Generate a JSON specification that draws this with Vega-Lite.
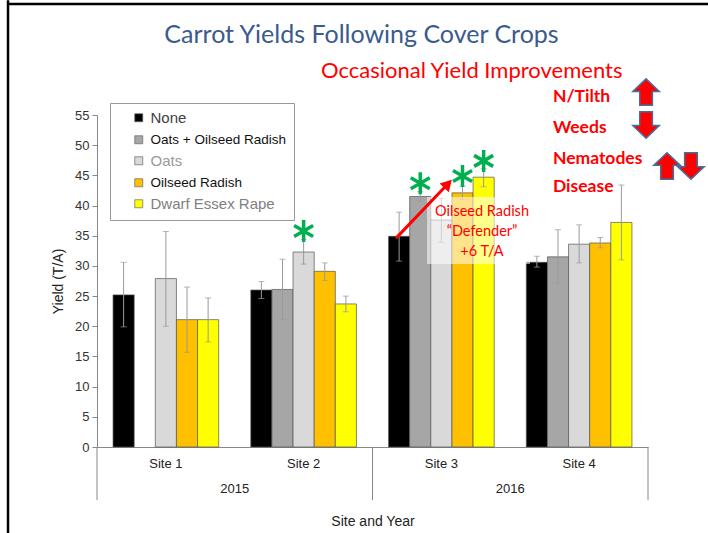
{
  "$schema": "https://vega.github.io/schema/vega-lite/v6.json",
  "width": 551,
  "height": 332,
  "autosize": {"type": "none"},
  "padding": {"left": 97, "top": 115, "right": 60, "bottom": 86},
  "background": "white",
  "title": {
    "text": "Carrot Yields Following Cover Crops",
    "font": "Lato",
    "fontSize": 25,
    "fontWeight": "normal",
    "color": "#3a5b8c",
    "anchor": "middle",
    "frame": "group",
    "offset": -49,
    "dx": -11
  },
  "config": {
    "view": {"stroke": null},
    "font": "Liberation Sans",
    "axisY": {
      "values": [0, 5, 10, 15, 20, 25, 30, 35, 40, 45, 50, 55],
      "labelOverlap": false,
      "labelBound": false,
      "grid": false,
      "domainColor": "#888",
      "tickColor": "#888",
      "tickSize": 5,
      "labelFont": "Liberation Sans",
      "labelFontSize": 13,
      "labelColor": "#333",
      "labelPadding": 3,
      "titleFont": "Liberation Sans",
      "titleFontSize": 14,
      "titleFontWeight": "normal",
      "titleColor": "#222",
      "titlePadding": 9
    }
  },
  "datasets": {
    "yields": [
      {"Site": "Site 1", "Treatment": "None", "Yield": 25.2, "Low": 19.9, "High": 30.6},
      {"Site": "Site 1", "Treatment": "Oats", "Yield": 27.9, "Low": 20.0, "High": 35.7},
      {"Site": "Site 1", "Treatment": "Oilseed Radish", "Yield": 21.1, "Low": 15.7, "High": 26.5},
      {"Site": "Site 1", "Treatment": "Dwarf Essex Rape", "Yield": 21.1, "Low": 17.4, "High": 24.7},
      {"Site": "Site 2", "Treatment": "None", "Yield": 26.0, "Low": 24.6, "High": 27.4},
      {"Site": "Site 2", "Treatment": "Oats + Oilseed Radish", "Yield": 26.1, "Low": 21.1, "High": 31.1},
      {"Site": "Site 2", "Treatment": "Oats", "Yield": 32.3, "Low": 30.3, "High": 34.4},
      {"Site": "Site 2", "Treatment": "Oilseed Radish", "Yield": 29.1, "Low": 27.6, "High": 30.5},
      {"Site": "Site 2", "Treatment": "Dwarf Essex Rape", "Yield": 23.7, "Low": 22.4, "High": 25.0},
      {"Site": "Site 3", "Treatment": "None", "Yield": 34.9, "Low": 30.8, "High": 38.9},
      {"Site": "Site 3", "Treatment": "Oats + Oilseed Radish", "Yield": 41.5, "Low": 40.7, "High": 42.3},
      {"Site": "Site 3", "Treatment": "Oats", "Yield": 37.6, "Low": 33.9, "High": 41.2},
      {"Site": "Site 3", "Treatment": "Oilseed Radish", "Yield": 42.1, "Low": 41.0, "High": 43.2},
      {"Site": "Site 3", "Treatment": "Dwarf Essex Rape", "Yield": 44.7, "Low": 43.1, "High": 46.1},
      {"Site": "Site 4", "Treatment": "None", "Yield": 30.6, "Low": 29.8, "High": 31.6},
      {"Site": "Site 4", "Treatment": "Oats + Oilseed Radish", "Yield": 31.5, "Low": 27.1, "High": 36.0},
      {"Site": "Site 4", "Treatment": "Oats", "Yield": 33.6, "Low": 30.5, "High": 36.8},
      {"Site": "Site 4", "Treatment": "Oilseed Radish", "Yield": 33.8, "Low": 33.0, "High": 34.7},
      {"Site": "Site 4", "Treatment": "Dwarf Essex Rape", "Yield": 37.2, "Low": 31.0, "High": 43.4}
    ],
    "stars": [
      {"Site": "Site 2", "Treatment": "Oats", "StarY": 35.8},
      {"Site": "Site 3", "Treatment": "Oats + Oilseed Radish", "StarY": 43.7},
      {"Site": "Site 3", "Treatment": "Oilseed Radish", "StarY": 44.9},
      {"Site": "Site 3", "Treatment": "Dwarf Essex Rape", "StarY": 47.4}
    ],
    "frame": [
      {"x": -0.646, "y": 74.0, "x2": -0.646, "y2": -16},
      {"x": -0.646, "y": 73.4, "x2": 4.6, "y2": 73.4}
    ],
    "separators": [
      {"x": 0, "y": 0, "x2": 0, "y2": -8.8},
      {"x": 2, "y": 0, "x2": 2, "y2": -8.8},
      {"x": 4, "y": 0, "x2": 4, "y2": -8.8}
    ],
    "box": [
      {"x": 2.396, "y": 41.4, "x2": 3.143, "y2": 30.3}
    ],
    "arrow": [
      {"x": 2.171, "y": 34.6, "x2": 2.548, "y2": 43.6}
    ],
    "notes": [
      {"kind": "sub", "x": 2.72, "y": 62.3, "text": "Occasional Yield Improvements"},
      {"kind": "red", "x": 3.31, "y": 58.0, "text": "N/Tilth"},
      {"kind": "red", "x": 3.31, "y": 52.85, "text": "Weeds"},
      {"kind": "red", "x": 3.31, "y": 47.7, "text": "Nematodes"},
      {"kind": "red", "x": 3.31, "y": 43.1, "text": "Disease"},
      {"kind": "box", "x": 2.795, "y": 38.9, "text": "Oilseed Radish"},
      {"kind": "box", "x": 2.795, "y": 35.6, "text": "“Defender”"},
      {"kind": "box", "x": 2.795, "y": 32.3, "text": "+6 T/A"},
      {"kind": "year", "x": 1.0, "y": -6.96, "text": "2015"},
      {"kind": "year", "x": 3.0, "y": -6.96, "text": "2016"}
    ],
    "arrows": [
      {"x": 3.986, "y": 58.8, "dir": "up"},
      {"x": 3.986, "y": 53.35, "dir": "down"},
      {"x": 4.138, "y": 46.55, "dir": "up"},
      {"x": 4.312, "y": 46.55, "dir": "down"}
    ]
  },
  "layer": [
    {
      "encoding": {
        "x": {
          "field": "Site",
          "type": "nominal",
          "scale": {"domain": ["Site 1", "Site 2", "Site 3", "Site 4"], "paddingInner": 0.233, "paddingOuter": 0.1165},
          "axis": {
            "title": "Site and Year",
            "labelAngle": 0,
            "ticks": false,
            "labelPadding": 10,
            "labelFont": "Liberation Sans",
            "labelFontSize": 13,
            "labelColor": "#222",
            "domainColor": "#888",
            "titleFont": "Liberation Sans",
            "titleFontSize": 14,
            "titleFontWeight": "normal",
            "titleColor": "#222",
            "titlePadding": 44
          }
        },
        "xOffset": {
          "field": "Treatment",
          "type": "nominal",
          "scale": {"domain": ["None", "Oats + Oilseed Radish", "Oats", "Oilseed Radish", "Dwarf Essex Rape"], "paddingInner": 0, "paddingOuter": 0}
        }
      },
      "layer": [
        {
          "data": {"name": "yields"},
          "mark": {"type": "bar", "stroke": "#555555", "strokeWidth": 0.7},
          "encoding": {
            "y": {
              "field": "Yield",
              "type": "quantitative",
              "scale": {"domain": [0, 55], "nice": false},
              "axis": {"title": "Yield  (T/A)", "values": [0, 5, 10, 15, 20, 25, 30, 35, 40, 45, 50, 55], "labelOverlap": false}
            },
            "color": {
              "field": "Treatment",
              "type": "nominal",
              "scale": {
                "domain": ["None", "Oats + Oilseed Radish", "Oats", "Oilseed Radish", "Dwarf Essex Rape"],
                "range": ["#000000", "#a6a6a6", "#d9d9d9", "#ffc000", "#ffff00"]
              },
              "legend": {
                "title": null,
                "orient": "none",
                "legendX": 13,
                "legendY": -12,
                "strokeColor": "#999999",
                "fillColor": "white",
                "padding": 8,
                "symbolOffset": 14,
                "symbolType": "square",
                "symbolSize": 64,
                "symbolStrokeColor": "#666666",
                "symbolStrokeWidth": 0.7,
                "labelFont": "Liberation Sans",
                "labelFontSize": 13.5,
                "labelOffset": 5,
                "rowPadding": 6,
                "labelLimit": 300,
                "encode": {
                  "labels": {
                    "update": {
                      "fill": {"signal": "datum.label === 'Oats' ? '#9a9a9a' : datum.label === 'Dwarf Essex Rape' ? '#808080' : datum.label === 'None' ? '#404040' : '#111111'"},
                      "fontSize": {"signal": "datum.label === 'None' || datum.label === 'Oats' || datum.label === 'Dwarf Essex Rape' ? 15 : 13.5"}
                    }
                  }
                }
              }
            }
          }
        },
        {
          "data": {"name": "yields"},
          "mark": {"type": "rule", "color": "#9a9a9a", "strokeWidth": 1},
          "encoding": {
            "y": {"field": "Low", "type": "quantitative", "scale": {"domain": [0, 55], "nice": false}, "axis": {"title": "Yield  (T/A)", "values": [0, 5, 10, 15, 20, 25, 30, 35, 40, 45, 50, 55], "labelOverlap": false}},
            "y2": {"field": "High"}
          }
        },
        {
          "data": {"name": "yields"},
          "mark": {"type": "tick", "orient": "horizontal", "color": "#9a9a9a", "size": 6, "thickness": 1},
          "encoding": {
            "y": {"field": "Low", "type": "quantitative", "scale": {"domain": [0, 55], "nice": false}, "axis": {"title": "Yield  (T/A)", "values": [0, 5, 10, 15, 20, 25, 30, 35, 40, 45, 50, 55], "labelOverlap": false}}
          }
        },
        {
          "data": {"name": "yields"},
          "mark": {"type": "tick", "orient": "horizontal", "color": "#9a9a9a", "size": 6, "thickness": 1},
          "encoding": {
            "y": {"field": "High", "type": "quantitative", "scale": {"domain": [0, 55], "nice": false}, "axis": {"title": "Yield  (T/A)", "values": [0, 5, 10, 15, 20, 25, 30, 35, 40, 45, 50, 55], "labelOverlap": false}}
          }
        },
        {
          "data": {"name": "stars"},
          "mark": {
            "type": "point",
            "shape": "M0,-1L0,1M-0.866,-0.5L0.866,0.5M-0.866,0.5L0.866,-0.5",
            "filled": false,
            "stroke": "#00b050",
            "strokeWidth": 3.5,
            "size": 484,
            "opacity": 1
          },
          "encoding": {
            "y": {"field": "StarY", "type": "quantitative", "scale": {"domain": [0, 55], "nice": false}, "axis": {"title": "Yield  (T/A)", "values": [0, 5, 10, 15, 20, 25, 30, 35, 40, 45, 50, 55], "labelOverlap": false}}
          }
        }
      ]
    },
    {
      "encoding": {
        "x": {"field": "x", "type": "quantitative", "scale": {"domain": [0, 4], "nice": false, "zero": false}, "axis": null},
        "y": {"field": "y", "type": "quantitative", "scale": {"domain": [0, 55], "nice": false, "zero": false}, "axis": null}
      },
      "layer": [
        {
          "data": {"name": "frame"},
          "mark": {"type": "rule", "color": "#000000", "strokeWidth": 2.5},
          "encoding": {"x2": {"field": "x2"}, "y2": {"field": "y2"}}
        },
        {
          "data": {"name": "separators"},
          "mark": {"type": "rule", "color": "#888888", "strokeWidth": 1},
          "encoding": {"x2": {"field": "x2"}, "y2": {"field": "y2"}}
        },
        {
          "data": {"name": "box"},
          "mark": {"type": "rect", "fill": "#ffffff", "opacity": 0.55},
          "encoding": {"x2": {"field": "x2"}, "y2": {"field": "y2"}}
        },
        {
          "data": {"name": "arrow"},
          "mark": {"type": "rule", "color": "#ff0000", "strokeWidth": 3},
          "encoding": {"x2": {"field": "x2"}, "y2": {"field": "y2"}}
        },
        {
          "data": {"name": "arrow"},
          "mark": {"type": "point", "shape": "triangle-up", "angle": 43.7, "filled": true, "color": "#ff0000", "size": 160, "opacity": 1},
          "encoding": {
            "x": {"field": "x2", "type": "quantitative"},
            "y": {"field": "y2", "type": "quantitative"}
          }
        },
        {
          "data": {"name": "notes"},
          "transform": [{"filter": "datum.kind === 'sub'"}],
          "mark": {"type": "text", "font": "Lato", "fontSize": 22, "color": "#ff0000", "align": "center", "baseline": "middle"},
          "encoding": {"text": {"field": "text"}}
        },
        {
          "data": {"name": "notes"},
          "transform": [{"filter": "datum.kind === 'red'"}],
          "mark": {"type": "text", "font": "Lato", "fontSize": 17.5, "fontWeight": "bold", "color": "#ff0000", "align": "left", "baseline": "middle"},
          "encoding": {"text": {"field": "text"}}
        },
        {
          "data": {"name": "notes"},
          "transform": [{"filter": "datum.kind === 'box'"}],
          "mark": {"type": "text", "font": "Lato", "fontSize": 14.5, "color": "#ff0000", "align": "center", "baseline": "middle"},
          "encoding": {"text": {"field": "text"}}
        },
        {
          "data": {"name": "notes"},
          "transform": [{"filter": "datum.kind === 'year'"}],
          "mark": {"type": "text", "font": "Liberation Sans", "fontSize": 13, "color": "#222222", "align": "center", "baseline": "middle"},
          "encoding": {"text": {"field": "text"}}
        },
        {
          "data": {"name": "arrows"},
          "mark": {"type": "point", "filled": true, "fill": "#ff0000", "stroke": "#41719c", "strokeWidth": 1.5, "size": 700, "opacity": 1},
          "encoding": {
            "shape": {
              "field": "dir",
              "type": "nominal",
              "scale": {
                "domain": ["up", "down"],
                "range": [
                  "M0,-1L1,-0.05L0.48,-0.05L0.48,1L-0.48,1L-0.48,-0.05L-1,-0.05Z",
                  "M0,1L1,0.05L0.48,0.05L0.48,-1L-0.48,-1L-0.48,0.05L-1,0.05Z"
                ]
              },
              "legend": null
            }
          }
        }
      ]
    }
  ],
  "resolve": {
    "scale": {"x": "independent", "y": "independent"},
    "axis": {"x": "independent", "y": "independent"}
  }
}
